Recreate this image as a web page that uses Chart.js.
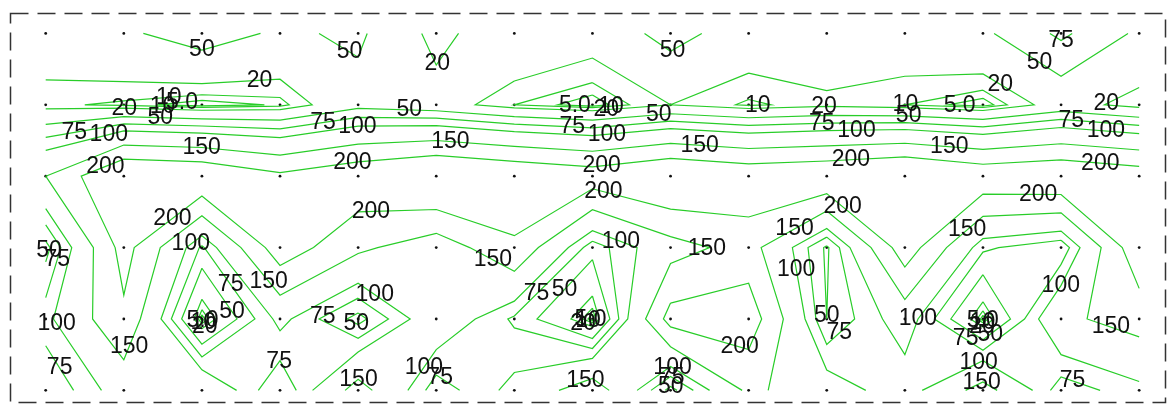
<!DOCTYPE html>
<html>
<head>
<meta charset="utf-8">
<script src="https://cdn.jsdelivr.net/npm/chart.js@4"></script>
<style>
  html, body { margin: 0; padding: 0; background: #fff; }
  canvas { display: block; }
</style>
</head>
<body>
<canvas id="c" width="1173" height="414"></canvas>
<script>
// Contour levels and the text printed on each contour
const levels = [5, 10, 20, 50, 75, 100, 150, 200];
const levelLabels = ['5.0', '10', '20', '50', '75', '100', '150', '200'];

// Measured values on the sampling grid, one array per row (top to bottom)
const row0 = [35, 45, 65, 45, 55, 12, 40, 30, 60, 35, 40, 35, 45, 80, 45];
const row1 = [12, 8, 1, 6, 40, 30, 10, 1, 20, 8, 15, 10, 1, 30, 12];
const row2 = [150, 260, 250, 210, 240, 270, 250, 230, 260, 240, 250, 270, 240, 250, 230];
const row3 = [40, 220, 70, 230, 160, 120, 190, 60, 130, 170, 45, 230, 80, 55, 240];
const row4 = [90, 190, 1, 110, 40, 130, 70, 1, 220, 230, 50, 120, 1, 140, 170];
const row5 = [50, 120, 140, 50, 170, 60, 110, 180, 40, 160, 120, 80, 170, 60, 90];
const grid = [row0, row1, row2, row3, row4, row5];

const nRows = grid.length;
const nCols = row0.length;

// Marching squares: returns chains of {x, y} points for one level
function contourChains(L) {
  const pts = new Map();
  const segs = [];
  const adj = new Map();
  const above = v => v >= L;
  function edge(key, x1, y1, v1, x2, y2, v2) {
    if (!pts.has(key)) {
      const t = (L - v1) / (v2 - v1);
      pts.set(key, { x: x1 + t * (x2 - x1), y: y1 + t * (y2 - y1) });
    }
    return key;
  }
  function addSeg(a, b) {
    const id = segs.length;
    segs.push([a, b]);
    [a, b].forEach(k => { if (!adj.has(k)) adj.set(k, []); adj.get(k).push(id); });
  }
  for (let r = 0; r < nRows - 1; r++) {
    for (let c = 0; c < nCols - 1; c++) {
      const v = [grid[r][c], grid[r][c + 1], grid[r + 1][c + 1], grid[r + 1][c]];
      const e = [];
      if (above(v[0]) !== above(v[1])) e[0] = edge('h' + r + '_' + c, c, r, v[0], c + 1, r, v[1]);
      if (above(v[1]) !== above(v[2])) e[1] = edge('v' + r + '_' + (c + 1), c + 1, r, v[1], c + 1, r + 1, v[2]);
      if (above(v[3]) !== above(v[2])) e[2] = edge('h' + (r + 1) + '_' + c, c, r + 1, v[3], c + 1, r + 1, v[2]);
      if (above(v[0]) !== above(v[3])) e[3] = edge('v' + r + '_' + c, c, r, v[0], c, r + 1, v[3]);
      const ks = e.filter(k => k !== undefined);
      if (ks.length === 2) {
        addSeg(ks[0], ks[1]);
      } else if (ks.length === 4) {
        const centre = (v[0] + v[1] + v[2] + v[3]) / 4;
        if (above(centre) === above(v[0])) { addSeg(e[0], e[1]); addSeg(e[2], e[3]); }
        else { addSeg(e[3], e[0]); addSeg(e[1], e[2]); }
      }
    }
  }
  const used = new Array(segs.length).fill(false);
  const chains = [];
  function walk(startKey) {
    const keys = [startKey];
    let cur = startKey;
    while (true) {
      const next = (adj.get(cur) || []).find(id => !used[id]);
      if (next === undefined) break;
      used[next] = true;
      const [a, b] = segs[next];
      cur = a === cur ? b : a;
      keys.push(cur);
    }
    return keys.map(k => pts.get(k));
  }
  // open chains first, then closed loops
  for (const [k, ids] of adj) {
    if (ids.length === 1 && !used[ids[0]]) chains.push(walk(k));
  }
  for (let i = 0; i < segs.length; i++) {
    if (!used[i]) chains.push(walk(segs[i][0]));
  }
  return chains;
}

const datasets = [];
levels.forEach((L, li) => {
  contourChains(L).forEach((chain, ci) => {
    datasets.push({
      data: chain,
      showLine: true,
      borderColor: 'rgb(40,205,40)',
      borderWidth: 1.2,
      pointRadius: 0,
      tension: 0,
      levelText: levelLabels[li],
      labelSeed: li * 97 + ci * 61
    });
  });
});

// Sampling stations
const stations = [];
grid.forEach((row, r) => row.forEach((_, c) => stations.push({ x: c, y: r })));
datasets.push({
  data: stations,
  showLine: false,
  pointRadius: 1.4,
  pointBackgroundColor: '#111',
  pointBorderWidth: 0
});

// Dashed frame around the plot
const framePlugin = {
  id: 'frame',
  afterDraw(chart) {
    const ctx = chart.ctx;
    ctx.save();
    ctx.strokeStyle = '#333';
    ctx.lineWidth = 1.5;
    ctx.setLineDash([18, 9]);
    ctx.strokeRect(10.5, 13.5, 1155, 389);
    ctx.restore();
  }
};

// Level values written along each contour, spaced by arc length
const contourLabelPlugin = {
  id: 'contourLabels',
  afterDatasetsDraw(chart) {
    const ctx = chart.ctx;
    const xs = chart.scales.x, ys = chart.scales.y;
    ctx.save();
    ctx.fillStyle = '#111';
    ctx.font = '23px "Liberation Sans", Arial, sans-serif';
    ctx.textAlign = 'center';
    ctx.textBaseline = 'middle';
    chart.data.datasets.forEach(ds => {
      if (!ds.levelText) return;
      const px = ds.data.map(p => [xs.getPixelForValue(p.x), ys.getPixelForValue(p.y)]);
      const cum = [0];
      for (let i = 1; i < px.length; i++) {
        cum.push(cum[i - 1] + Math.hypot(px[i][0] - px[i - 1][0], px[i][1] - px[i - 1][1]));
      }
      const total = cum[cum.length - 1];
      const marks = [];
      if (total < 140) {
        marks.push(total / 2);
      } else {
        for (let s = 20 + (ds.labelSeed % 220); s < total - 20; s += 250) marks.push(s);
      }
      marks.forEach(s => {
        let i = 1;
        while (i < cum.length - 1 && cum[i] < s) i++;
        const seg = cum[i] - cum[i - 1] || 1;
        const t = (s - cum[i - 1]) / seg;
        const x = px[i - 1][0] + t * (px[i][0] - px[i - 1][0]);
        const y = px[i - 1][1] + t * (px[i][1] - px[i - 1][1]);
        ctx.fillText(ds.levelText, x, y);
      });
    });
    ctx.restore();
  }
};

new Chart(document.getElementById('c'), {
  type: 'scatter',
  data: { datasets },
  options: {
    responsive: false,
    animation: false,
    events: [],
    layout: { padding: 0 },
    plugins: { legend: { display: false }, tooltip: { enabled: false } },
    scales: {
      x: { type: 'linear', display: false, min: -0.534, max: 14.382 },
      y: { type: 'linear', display: false, reverse: true, min: -0.412, max: 5.275 }
    }
  },
  plugins: [framePlugin, contourLabelPlugin]
});
</script>
</body>
</html>
